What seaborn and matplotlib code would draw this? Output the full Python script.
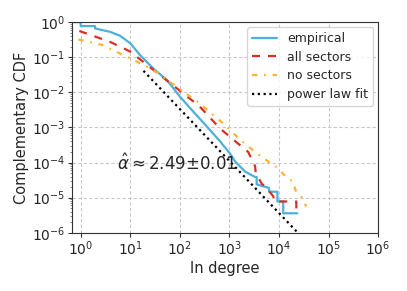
import matplotlib
matplotlib.use("Agg")
import matplotlib.pyplot as plt
import seaborn as sns
import pandas as pd

# empirical CCDF
emp_x = [0.71, 1, 1, 1.95, 1.95, 3.9, 6.2, 10, 15.8, 29, 55, 100, 188, 350, 650, 1000, 1320, 1660, 2090, 2820, 3310, 3550, 3550, 5250, 6300, 6300, 9300, 9300, 12200, 12200, 23400]
emp_y = [1, 1, 0.77, 0.77, 0.66, 0.53, 0.41, 0.25, 0.115, 0.048, 0.0224, 0.0076, 0.0028, 0.00107, 0.0004, 0.00019, 0.000105, 0.000076, 0.000055, 0.0000437, 0.0000389, 0.0000389, 0.000024, 0.0000204, 0.000019, 0.0000148, 0.0000148, 0.0000078, 0.0000078, 0.0000036, 0.0000036]
# all sectors
all_x = [0.94, 3.9, 10, 29, 86, 250, 640, 1200, 2400, 3300, 3400, 4500, 5600, 7600, 8300, 22400, 22400]
all_y = [0.56, 0.275, 0.145, 0.044, 0.0132, 0.004, 0.00095, 0.00045, 0.0002, 0.000079, 0.00005, 0.000025, 0.000019, 0.0000112, 0.0000078, 0.0000078, 0.0000045]
# no sectors
no_x = [0.9, 2.7, 10, 29, 86, 250, 740, 1650, 3300, 6200, 8300, 14100, 19500, 21400, 28200, 33100, 35500]
no_y = [0.32, 0.224, 0.093, 0.044, 0.0145, 0.0049, 0.00132, 0.00045, 0.0002, 0.000105, 0.000081, 0.000039, 0.000028, 0.0000166, 0.0000107, 0.0000069, 0.0000056]
# power law fit endpoints
fit_x = [18.5, 30000]
fit_y = [0.041, 0.00000072]

sns.set_theme(style="whitegrid")
plt.rcParams['font.family'] = ['DejaVu Sans']

fig, ax = plt.subplots(figsize=(4.07, 2.91), dpi=100)
sns.lineplot(x=emp_x, y=emp_y, ax=ax, color="#4DB0D8", lw=1.6, label="empirical", estimator=None, sort=False)
sns.lineplot(x=all_x, y=all_y, ax=ax, color="#D73027", lw=1.6, linestyle=(0, (3.6, 3.6)), label="all sectors", estimator=None, sort=False)
sns.lineplot(x=no_x, y=no_y, ax=ax, color="#FDB338", lw=1.6, linestyle=(0, (2.4, 3.0, 0.8, 3.0)), label="no sectors", estimator=None, sort=False)
sns.lineplot(x=fit_x, y=fit_y, ax=ax, color="black", lw=1.6, linestyle=(0, (1, 1.6)), label="power law fit", estimator=None, sort=False)

ax.set_xscale("log")
ax.set_yscale("log")
ax.set_xlim(0.67, 1e6)
ax.set_ylim(1e-6, 1)
ax.set_xticks([1, 10, 100, 1e3, 1e4, 1e5, 1e6])
ax.set_yticks([1e-6, 1e-5, 1e-4, 1e-3, 1e-2, 1e-1, 1])
ax.grid(True, which="major", linestyle=(0, (3, 2)), color="#c8c8c8", lw=0.8)
ax.grid(False, which="minor")
ax.set_facecolor("white")
for s in ax.spines.values():
    s.set_color("#333333")
    s.set_linewidth(0.8)
ax.tick_params(axis="both", which="major", labelsize=10, length=3, width=0.8, left=True, bottom=True, color="#333333", pad=2)
ax.tick_params(axis="y", which="minor", length=1.5, width=0.5, left=True, color="#555555")
ax.set_xlabel("In degree", fontsize=10.5, labelpad=2)
ax.set_ylabel("Complementary CDF", fontsize=10.5, labelpad=2)
ax.text(5.4, 10**-4.03, r"$\hat{\alpha}\approx$2.49±0.01", fontsize=12, va="center", ha="left")
leg = ax.legend(loc="upper right", fontsize=9, frameon=True, fancybox=True, borderaxespad=0.4,
                handlelength=2.0, handletextpad=0.8, labelspacing=0.45)
leg.get_frame().set_edgecolor("#cccccc")

fig.subplots_adjust(left=0.177, right=0.929, top=0.924, bottom=0.2)
fig.savefig("out.png", dpi=100)
